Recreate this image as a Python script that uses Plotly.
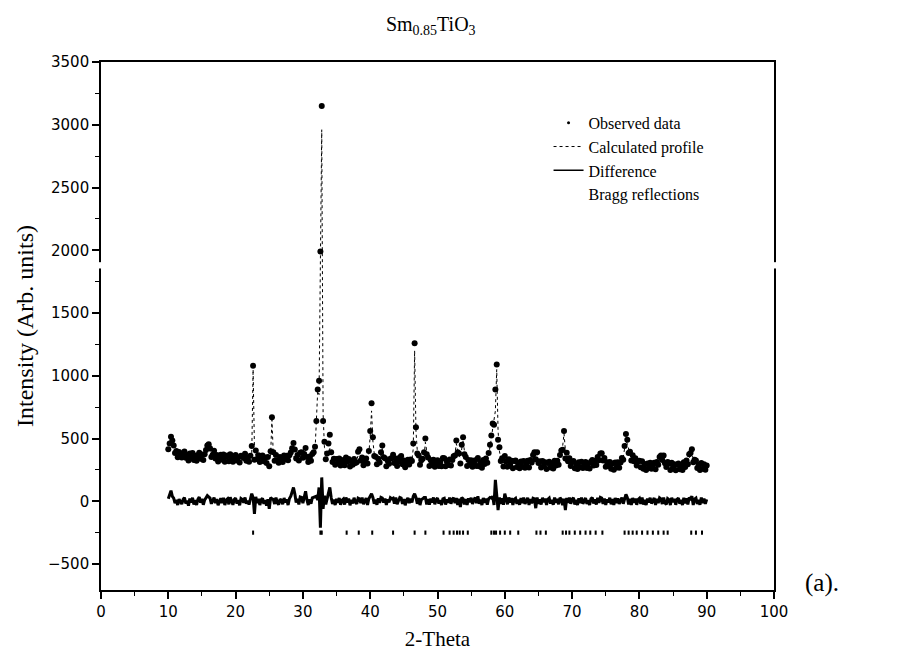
import numpy as np
import plotly.graph_objects as go

# 2-theta scan: 10 to 90 degrees, 0.2 degree step
two_theta = np.round(np.arange(10.0, 90.0001, 0.2), 1)

# Calculated (Rietveld) profile, one row per 2 degrees
calculated = [
    395, 405, 430, 445, 420, 400, 390, 380, 375, 372,
    370, 368, 366, 364, 362, 360, 358, 357, 356, 355,
    354, 353, 352, 352, 351, 352, 356, 364, 378, 400,
    420, 398, 372, 358, 372, 356, 350, 348, 347, 346,
    345, 345, 344, 344, 344, 343, 343, 343, 342, 342,
    342, 342, 341, 341, 341, 345, 355, 348, 342, 341,
    341, 345, 380, 1050, 430, 370, 352, 346, 343, 341,
    340, 339, 338, 338, 337, 340, 370, 650, 375, 345,
    338, 336, 335, 335, 335, 336, 338, 342, 348, 356,
    345, 348, 352, 355, 352, 350, 349, 350, 352, 360,
    362, 352, 345, 343, 342, 341, 342, 348, 360, 400,
    600, 880, 850, 2200, 2960, 700, 430, 360, 360, 400,
    420, 360, 335, 325, 320, 317, 315, 314, 313, 312,
    311, 312, 318, 325, 315, 310, 309, 308, 308, 310,
    330, 370, 395, 340, 318, 310, 310, 315, 330, 380,
    520, 720, 480, 380, 340, 322, 315, 320, 360, 420,
    360, 320, 310, 307, 306, 310, 325, 345, 322, 310,
    306, 305, 318, 335, 315, 306, 304, 303, 304, 306,
    312, 330, 420, 1200, 560, 400, 340, 320, 312, 318,
    360, 470, 400, 330, 310, 305, 302, 300, 300, 300,
    300, 300, 302, 310, 325, 318, 305, 300, 300, 302,
    305, 312, 330, 380, 460, 420, 360, 345, 420, 490,
    400, 335, 312, 305, 300, 298, 297, 296, 296, 298,
    305, 300, 297, 298, 302, 308, 318, 335, 365, 420,
    500, 580, 640, 720, 1050, 560, 400, 340, 318, 306,
    300, 298, 300, 305, 300, 296, 294, 305, 300, 293,
    292, 291, 291, 290, 290, 290, 292, 295, 300, 310,
    325, 345, 370, 390, 360, 325, 305, 296, 292, 290,
    289, 288, 288, 288, 288, 289, 290, 292, 296, 302,
    315, 340, 390, 440, 540, 410, 360, 330, 312, 302,
    296, 292, 290, 288, 287, 286, 286, 285, 285, 286,
    287, 288, 290, 292, 295, 298, 302, 308, 315, 325,
    338, 350, 358, 345, 322, 305, 295, 289, 285, 283,
    282, 282, 283, 284, 286, 290, 298, 315, 350, 420,
    480, 460, 410, 375, 355, 340, 330, 320, 312, 305,
    298, 292, 288, 285, 282, 280, 279, 278, 278, 278,
    279, 281, 285, 292, 305, 325, 345, 350, 335, 315,
    300, 290, 284, 280, 278, 276, 275, 275, 275, 275,
    276, 277, 279, 283, 290, 300, 320, 345, 365, 375,
    340, 312, 298, 288, 282, 278, 275, 273, 272, 271,
    270,
]

# Difference curve (observed - calculated), same grid
difference = [
    20, 55, 85, 40, 25, -15, 10, -30, 18, -5,
    -22, 14, 30, -18, 5, -35, 22, -10, 28, -26,
    8, -30, 16, 34, -12, 20, -28, 10, 30, 45,
    35, 25, -20, 12, 30, -15, 18, -32, 6, 24,
    -14, 28, -30, 10, 20, -24, 32, -6, -28, 15,
    26, -18, 8, -32, 22, 14, -10, 30, -20, 5,
    -26, 18, 60, 30, -100, 35, -15, 20, -30, 12,
    24, -20, 10, -34, 16, -60, 28, 20, 15, -22,
    30, -12, -28, 18, 6, -24, 26, -8, 14, -30,
    22, 40, 70, 110, 60, -10, 20, -26, 34, 30,
    -15, 25, 80, 10, -30, 16, -20, 28, 30, 35,
    40, 10, 110, -210, 190, -60, 45, -25, 20, 60,
    110, 30, -22, 14, -30, 20, -12, 26, -28, 8,
    18, -26, 30, -10, 22, -32, 12, -18, 28, -6,
    -20, 25, 20, -15, 30, -24, 10, 26, -30, 20,
    40, 60, 30, -20, 14, -28, 24, -12, 30, 25,
    -10, 22, -30, 16, -8, 28, 20, 25, -18, 30,
    -24, 12, 30, 25, -20, 18, -32, 8, 26, -14,
    20, -10, 40, 60, 30, -20, 25, -30, 14, 20,
    30, 30, -25, 18, -28, 22, -10, 30, -24, 12,
    26, -18, 8, -30, 20, 24, -26, 14, -12, 30,
    -20, 16, 28, -15, 25, -30, 20, -45, 30, 20,
    -25, 18, -30, 24, -8, 28, -22, 10, 30, -16,
    40, -20, 14, -30, 26, -12, 22, -28, 20, 30,
    25, 40, -30, 170, 40, -70, 30, -20, 24, -28,
    60, 20, -24, 30, -10, 26, -30, 16, 24, -20,
    12, -28, 26, -14, 30, -22, 8, 28, -30, 18,
    -16, 24, 20, -55, 30, -20, 14, -26, 28, -8,
    22, -30, 16, 26, -18, 10, -28, 30, -12, 20,
    -24, 28, 14, -30, 20, -70, 26, -12, 30, -20,
    16, 28, -26, 10, -30, 24, -14, 30, -20, 12,
    26, -22, 8, -30, 20, 30, -18, 14, -26, 28,
    -12, 30, 25, -20, 22, -30, 16, -8, 28, -24,
    18, -30, 26, -14, 24, -22, 10, 30, -20, 20,
    55, 30, -25, 20, -30, 26, -12, 22, -28, 14,
    24, -20, 30, -26, 12, -30, 22, -10, 28, -18,
    10, 26, -30, 20, -14, 28, 20, -22, 30, -12,
    -26, 22, 14, -30, 28, -8, 20, -28, 16, 26,
    -20, 12, -30, 28, -16, 24, -26, 30, 20, 40,
    -30, 18, 26, -22, 10, -28, 30, -14, 22, -20,
    15,
]

observed = [c + d for c, d in zip(calculated, difference)]

# Bragg reflection positions (2-theta) and the level of their markers
bragg_positions = [
    22.6, 32.6, 32.8, 36.5, 38.3, 40.3, 43.4, 46.6, 48.2,
    50.9, 51.8, 52.4, 52.9, 53.3, 53.8, 54.5,
    58.0, 58.4, 58.7, 59.3, 60.0, 60.8, 62.0,
    64.7, 65.3, 66.1,
    68.6, 69.1, 69.6, 70.4, 71.2, 72.0, 72.7, 73.5, 74.5,
    77.8, 78.4, 79.0, 79.6, 80.4, 81.2, 82.0, 82.8, 83.6, 84.2,
    87.7, 88.4, 89.3,
]
bragg_level = -250

SERIF = "Liberation Serif, Times New Roman, serif"
SANS = "DejaVu Sans, Arial, sans-serif"

fig = go.Figure()
fig.add_trace(go.Scatter(
    x=two_theta, y=observed, mode="markers", name="Observed data",
    legendgroup="obs", showlegend=False,
    marker=dict(size=6, color="black"),
))
fig.add_trace(go.Scatter(
    x=two_theta, y=calculated, mode="lines", name="Calculated profile",
    legendgroup="calc", showlegend=False,
    line=dict(color="black", width=1, dash="dot"),
))
fig.add_trace(go.Scatter(
    x=two_theta, y=difference, mode="lines", name="Difference",
    legendgroup="diff", showlegend=False,
    line=dict(color="black", width=3),
))
fig.add_trace(go.Scatter(
    x=bragg_positions, y=[bragg_level] * len(bragg_positions),
    mode="markers", name="Bragg reflections", legendgroup="bragg",
    showlegend=False,
    marker=dict(symbol="line-ns", size=3, line=dict(width=2, color="black")),
))

# legend keys, drawn with slimmer symbols than the data traces
fig.add_trace(go.Scatter(
    x=[None], y=[None], mode="markers", name="Observed data",
    legendgroup="obs", marker=dict(size=3, color="black"),
))
fig.add_trace(go.Scatter(
    x=[None], y=[None], mode="lines", name="Calculated profile",
    legendgroup="calc", line=dict(color="black", width=1, dash="dot"),
))
fig.add_trace(go.Scatter(
    x=[None], y=[None], mode="lines", name="Difference",
    legendgroup="diff", line=dict(color="black", width=1.5),
))
fig.add_trace(go.Scatter(
    x=[None], y=[None], mode="markers", name="Bragg reflections",
    legendgroup="bragg", marker=dict(color="rgba(0,0,0,0)", size=1),
))

axis_common = dict(
    showline=True, linecolor="black", linewidth=1.6, mirror=True,
    ticks="outside", ticklen=7, tickwidth=1.5, tickcolor="black",
    showgrid=False, zeroline=False,
    tickfont=dict(family=SANS, size=15, color="black"),
)

fig.update_layout(
    width=898, height=659,
    margin=dict(l=101, r=123.5, t=62, b=69),
    paper_bgcolor="white", plot_bgcolor="white",
    title=dict(
        text="Sm<sub>0.85</sub>TiO<sub>3</sub>",
        font=dict(family=SERIF, size=20, color="black"),
        x=0.49, xref="paper", xanchor="center",
        y=1 - 24 / 659, yref="container", yanchor="middle",
    ),
    xaxis=dict(
        range=[0, 100], tick0=0, dtick=10,
        minor=dict(dtick=5, ticklen=4, tickwidth=1.3, tickcolor="black", ticks="outside"),
        title=dict(text="2-Theta", font=dict(family=SERIF, size=21, color="black"), standoff=12),
        **axis_common,
    ),
    yaxis=dict(
        range=[-707, 3500], tick0=0, dtick=500,
        minor=dict(dtick=250, ticklen=4, tickwidth=1.3, tickcolor="black", ticks="outside"),
        title=dict(text="Intensity (Arb. units)", font=dict(family=SERIF, size=24, color="black"), standoff=8),
        **axis_common,
    ),
    legend=dict(
        x=0.665, y=0.917, xanchor="left", yanchor="top",
        bgcolor="rgba(0,0,0,0)",
        font=dict(family=SERIF, size=16, color="black"),
        tracegroupgap=0,
    ),
    showlegend=True,
    annotations=[dict(
        text="(a).", xref="paper", yref="paper", x=1.072, y=0.013,
        xanchor="center", yanchor="middle", showarrow=False,
        font=dict(family=SERIF, size=25, color="black"),
    )],
    shapes=[
        # axis break on the left and right frame lines
        dict(type="rect", xref="paper", yref="y", x0=-0.005, x1=0.005,
             y0=1855, y1=1905, fillcolor="white", line=dict(width=0), layer="above"),
        dict(type="rect", xref="paper", yref="y", x0=0.995, x1=1.005,
             y0=1855, y1=1905, fillcolor="white", line=dict(width=0), layer="above"),
    ],
)

fig.write_html("out.html")
